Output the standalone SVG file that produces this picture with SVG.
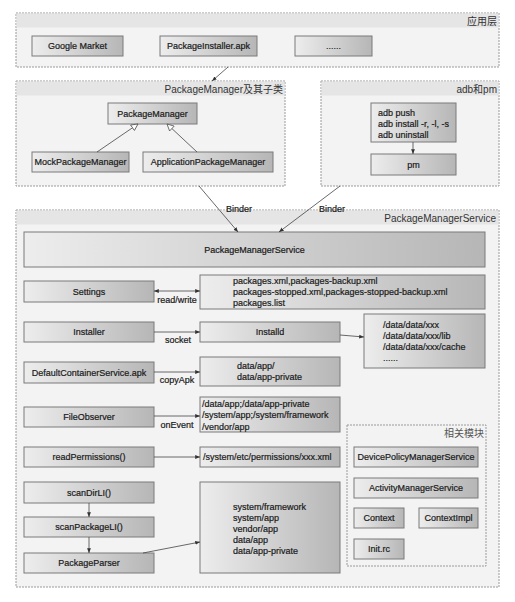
<svg xmlns="http://www.w3.org/2000/svg" width="515" height="602" viewBox="0 0 515 602">
<style>
text{font-family:"Liberation Sans","Noto Sans CJK SC",Arial,sans-serif;fill:#1a1a1a;font-size:9px;stroke:#1a1a1a;stroke-width:0.2}
.c{text-anchor:middle}
.t{font-size:10px;text-anchor:end;fill:#333;stroke:none}
.cont{fill:#f3f3f3;stroke:#9a9a9a;stroke-width:1;stroke-dasharray:2,1}
.band{fill:#e5e5e5}
.n{fill:url(#g);stroke:#7a7a7a;stroke-width:1}
.l{stroke:#444;stroke-width:0.8;fill:none}
</style>
<defs>
<linearGradient id="g" x1="0" y1="0" x2="1" y2="0">
<stop offset="0" stop-color="#ededed"/>
<stop offset="1" stop-color="#b6b6b6"/>
</linearGradient>
<marker id="a" viewBox="0 0 10 10" refX="10" refY="5" markerWidth="6" markerHeight="6" orient="auto-start-reverse">
<path d="M0,1 L10,5 L0,9 z" fill="#333"/>
</marker>
<marker id="h" viewBox="0 0 12 12" refX="11" refY="6" markerWidth="10" markerHeight="10" orient="auto">
<path d="M1,1 L11,6 L1,11 z" fill="#fff" stroke="#555" stroke-width="1.2"/>
</marker>
</defs>
<rect width="515" height="602" fill="#fff"/>

<g id="app-layer">
<rect class="cont" x="16" y="13" width="483" height="54"/>
<rect class="band" x="16.5" y="13.5" width="482" height="14"/>
<text class="t" x="497" y="25">应用层</text>
</g>
<g id="google-market"><rect class="n" x="32" y="36" width="91" height="20"/><text class="c" x="77.5" y="49">Google Market</text></g>
<g id="package-installer"><rect class="n" x="160" y="36" width="97" height="20"/><text class="c" x="208.5" y="49">PackageInstaller.apk</text></g>
<g id="more-apps"><rect class="n" x="295" y="36" width="77" height="20"/><text class="c" x="333.5" y="49">......</text></g>

<g id="pm-group">
<rect class="cont" x="16" y="81" width="269" height="105"/>
<rect class="band" x="16.5" y="81.5" width="268" height="14"/>
<text class="t" x="283" y="93">PackageManager及其子类</text>
</g>
<g id="package-manager"><rect class="n" x="108" y="103" width="89" height="21"/><text class="c" x="152.5" y="117">PackageManager</text></g>
<g id="mock-pm"><rect class="n" x="32" y="152" width="97" height="20"/><text class="c" x="80.5" y="165">MockPackageManager</text></g>
<g id="app-pm"><rect class="n" x="143" y="152" width="130" height="20"/><text class="c" x="208" y="165">ApplicationPackageManager</text></g>

<g id="adb-group">
<rect class="cont" x="321" y="81" width="178" height="105"/>
<rect class="band" x="321.5" y="81.5" width="177" height="14"/>
<text class="t" x="497" y="93">adb和pm</text>
</g>
<g id="adb"><rect class="n" x="371" y="103" width="85" height="39"/>
<text x="378" y="116">adb push</text><text x="378" y="127">adb install -r, -l, -s</text><text x="378" y="138">adb uninstall</text></g>
<g id="pm"><rect class="n" x="371" y="154" width="85" height="21"/><text class="c" x="413.5" y="168">pm</text></g>

<g id="pms-group">
<rect class="cont" x="16" y="210" width="483" height="377"/>
<rect class="band" x="16.5" y="210.5" width="482" height="14"/>
<text class="t" x="496" y="222">PackageManagerService</text>
</g>
<g id="pms"><rect class="n" x="24" y="232" width="461" height="35"/><text class="c" x="254.5" y="253">PackageManagerService</text></g>
<g id="settings"><rect class="n" x="24" y="281" width="130" height="21"/><text class="c" x="89" y="295">Settings</text></g>
<g id="packages-xml"><rect class="n" x="200" y="275" width="285" height="34"/>
<text x="233" y="284">packages.xml,packages-backup.xml</text><text x="233" y="295">packages-stopped.xml,packages-stopped-backup.xml</text><text x="233" y="306">packages.list</text></g>
<g id="installer"><rect class="n" x="24" y="322" width="130" height="20"/><text class="c" x="89" y="335">Installer</text></g>
<g id="installd"><rect class="n" x="200" y="322" width="140" height="20"/><text class="c" x="270" y="335">Installd</text></g>
<g id="data-data"><rect class="n" x="364" y="314" width="121" height="54"/>
<text x="383" y="328">/data/data/xxx</text><text x="383" y="339">/data/data/xxx/lib</text><text x="383" y="350">/data/data/xxx/cache</text><text x="383" y="361">......</text></g>
<g id="dcs"><rect class="n" x="24" y="362" width="130" height="21"/><text class="c" x="89" y="376">DefaultContainerService.apk</text></g>
<g id="data-app"><rect class="n" x="200" y="357" width="140" height="29"/>
<text x="237" y="369">data/app/</text><text x="237" y="380">data/app-private</text></g>
<g id="file-observer"><rect class="n" x="24" y="407" width="130" height="20"/><text class="c" x="89" y="420">FileObserver</text></g>
<g id="watched-dirs"><rect class="n" x="200" y="397" width="140" height="35"/>
<text x="202" y="407">/data/app;/data/app-private</text><text x="202" y="418">/system/app;/system/framework</text><text x="202" y="430">/vendor/app</text></g>
<g id="read-permissions"><rect class="n" x="24" y="447" width="130" height="20"/><text class="c" x="89" y="460">readPermissions()</text></g>
<g id="permissions-xml"><rect class="n" x="200" y="447" width="140" height="20"/><text x="203" y="460">/system/etc/permissions/xxx.xml</text></g>
<g id="scan-dir"><rect class="n" x="24" y="482" width="130" height="21"/><text class="c" x="89" y="496">scanDirLI()</text></g>
<g id="scan-package"><rect class="n" x="24" y="517" width="130" height="20"/><text class="c" x="89" y="530">scanPackageLI()</text></g>
<g id="package-parser"><rect class="n" x="24" y="553" width="130" height="20"/><text class="c" x="89" y="566">PackageParser</text></g>
<g id="scan-dirs"><rect class="n" x="200" y="482" width="140" height="91"/>
<text x="233" y="510">system/framework</text><text x="233" y="521">system/app</text><text x="233" y="532">vendor/app</text><text x="233" y="543">data/app</text><text x="233" y="554">data/app-private</text></g>

<g id="related-group">
<rect class="cont" x="347" y="425" width="139" height="141"/>
<text class="t" x="484" y="437" style="fill:#555">相关模块</text>
</g>
<g id="dpms"><rect class="n" x="354" y="447" width="124" height="20"/><text class="c" x="416" y="460">DevicePolicyManagerService</text></g>
<g id="ams"><rect class="n" x="354" y="478" width="124" height="20"/><text class="c" x="416" y="491">ActivityManagerService</text></g>
<g id="context"><rect class="n" x="354" y="508" width="50" height="20"/><text class="c" x="379" y="521">Context</text></g>
<g id="context-impl"><rect class="n" x="419" y="508" width="59" height="20"/><text class="c" x="448.5" y="521">ContextImpl</text></g>
<g id="init-rc"><rect class="n" x="354" y="539" width="50" height="20"/><text class="c" x="379" y="552">Init.rc</text></g>

<g id="connectors">
<line class="l" x1="228" y1="67" x2="212" y2="81" marker-end="url(#a)"/>
<line class="l" x1="97" y1="152" x2="138" y2="124" marker-end="url(#h)"/>
<line class="l" x1="197" y1="152" x2="167" y2="124" marker-end="url(#h)"/>
<line class="l" x1="413" y1="142" x2="413" y2="154" marker-end="url(#a)"/>
<line class="l" x1="199" y1="186" x2="238" y2="232" marker-end="url(#a)"/>
<text class="c" x="239" y="212">Binder</text>
<line class="l" x1="340" y1="186" x2="279" y2="232" marker-end="url(#a)"/>
<text class="c" x="332" y="212">Binder</text>
<line class="l" x1="154" y1="291" x2="200" y2="291" marker-start="url(#a)" marker-end="url(#a)"/>
<text class="c" x="177" y="303">read/write</text>
<line class="l" x1="154" y1="332" x2="200" y2="332" marker-end="url(#a)"/>
<text class="c" x="178" y="343">socket</text>
<line class="l" x1="340" y1="335" x2="364" y2="337" marker-end="url(#a)"/>
<line class="l" x1="154" y1="372" x2="200" y2="372" marker-end="url(#a)"/>
<text class="c" x="177" y="383">copyApk</text>
<line class="l" x1="154" y1="416" x2="200" y2="416" marker-end="url(#a)"/>
<text class="c" x="177" y="428">onEvent</text>
<line class="l" x1="154" y1="457" x2="200" y2="457" marker-end="url(#a)"/>
<line class="l" x1="89" y1="503" x2="89" y2="517" marker-end="url(#a)"/>
<line class="l" x1="89" y1="537" x2="89" y2="553" marker-end="url(#a)"/>
<line class="l" x1="143" y1="553" x2="200" y2="542" marker-end="url(#a)"/>
</g>
</svg>
